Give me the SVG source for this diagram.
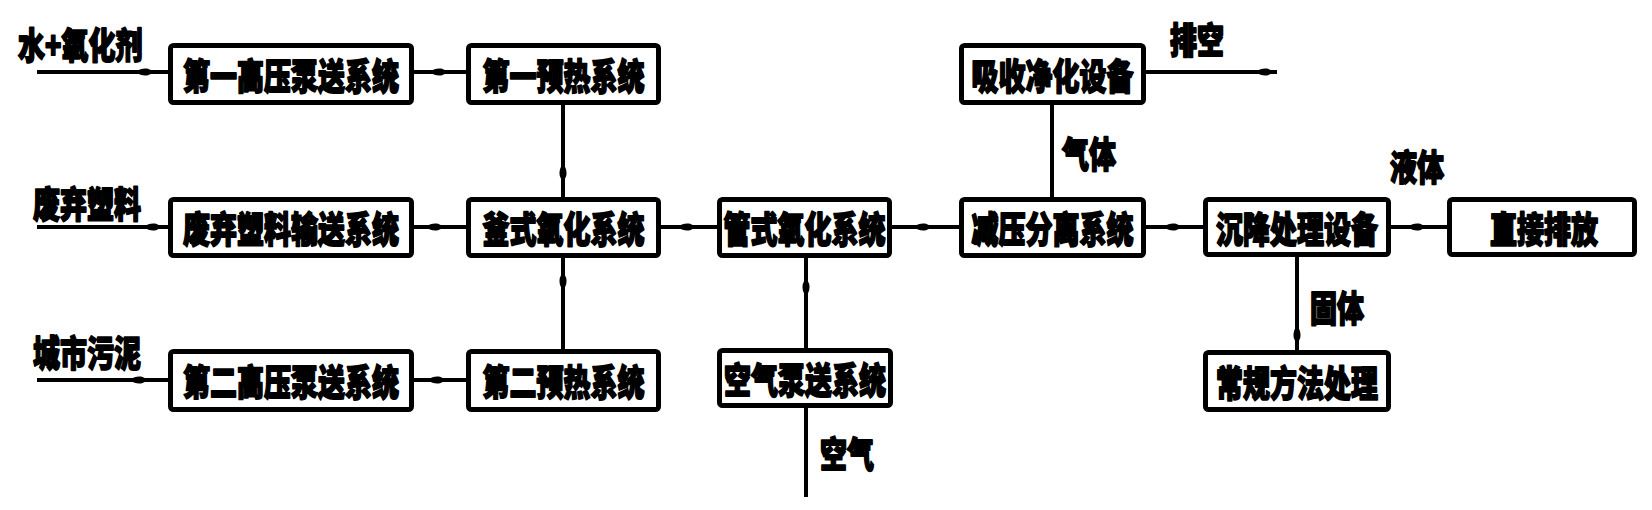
<svg xmlns="http://www.w3.org/2000/svg" width="1652" height="510" viewBox="0 0 1652 510">
<defs>
<style>
.box{fill:#fff;stroke:#000;stroke-width:5}
.t{font-family:"Noto Sans CJK SC","Noto Sans",sans-serif;font-weight:900;font-size:27px;fill:#000;stroke:#000;stroke-width:1.3;stroke-linejoin:round}
.c{font-family:"Noto Sans CJK SC","Noto Sans",sans-serif;font-weight:900;font-size:27px;fill:#000;stroke:#000;stroke-width:1.3;stroke-linejoin:round;text-anchor:middle;dominant-baseline:central}
.ln{fill:none;stroke:#000;stroke-width:4;marker-mid:url(#ah)}
</style>
<marker id="ah" markerUnits="userSpaceOnUse" orient="auto" overflow="visible" markerWidth="20" markerHeight="10" refX="0" refY="0">
<path d="M-12,0 C-8,-3.8 -3,-3.8 0,-3.2 L7,0 L0,3.2 C-3,3.8 -8,3.8 -12,0 Z" fill="#000"/>
</marker>
</defs>
<rect width="1652" height="510" fill="#fff"/>
<g id="connectors">
<path class="ln" d="M37,72 L148,72 L168,72"/>
<path class="ln" d="M414,72 L442,72 L466,72"/>
<path class="ln" d="M563,105 L563,176 L563,197"/>
<path class="ln" d="M37,227 L156,227 L168,227"/>
<path class="ln" d="M414,227 L438,227 L466,227"/>
<path class="ln" d="M37,380 L142,380 L168,380"/>
<path class="ln" d="M414,380 L440,380 L466,380"/>
<path class="ln" d="M563,349 L563,278 L563,258"/>
<path class="ln" d="M661,227 L690,227 L717,227"/>
<path class="ln" d="M806,497 L806,408"/>
<path class="ln" d="M806,348 L806,284 L806,258"/>
<path class="ln" d="M892,227 L926,227 L959,227"/>
<path class="ln" d="M1052,197 L1052,105"/>
<path class="ln" d="M1146,72 L1268,72 L1277,72"/>
<path class="ln" d="M1146,227 L1176,227 L1203,227"/>
<path class="ln" d="M1391,227 L1420,227 L1447,227"/>
<path class="ln" d="M1297,257 L1297,338 L1297,350"/>
</g>
<g id="labels">
<text class="t" transform="translate(18,43) scale(1,1.35)" dominant-baseline="central">水+氧化剂</text>
<text class="t" transform="translate(33,202) scale(1,1.35)" dominant-baseline="central">废弃塑料</text>
<text class="t" transform="translate(33,351) scale(1,1.35)" dominant-baseline="central">城市污泥</text>
<text class="t" transform="translate(1170,38) scale(1,1.35)" dominant-baseline="central">排空</text>
<text class="t" transform="translate(1062,152) scale(1,1.35)" dominant-baseline="central">气体</text>
<text class="t" transform="translate(1390,165) scale(1,1.35)" dominant-baseline="central">液体</text>
<text class="t" transform="translate(1310,306) scale(1,1.35)" dominant-baseline="central">固体</text>
<text class="t" transform="translate(820,452) scale(1,1.35)" dominant-baseline="central">空气</text>
</g>
<g id="n1"><rect class="box" x="170.5" y="45.5" width="241" height="57" rx="3"/><text class="c" transform="translate(291,74) scale(1,1.35)">第一高压泵送系统</text></g>
<g id="n2"><rect class="box" x="468.5" y="45.5" width="190" height="57" rx="3"/><text class="c" transform="translate(563.5,74) scale(1,1.35)">第一预热系统</text></g>
<g id="n3"><rect class="box" x="170.5" y="199.5" width="241" height="56" rx="3"/><text class="c" transform="translate(291,227.5) scale(1,1.35)">废弃塑料输送系统</text></g>
<g id="n4"><rect class="box" x="468.5" y="199.5" width="190" height="56" rx="3"/><text class="c" transform="translate(563.5,227.5) scale(1,1.35)">釜式氧化系统</text></g>
<g id="n5"><rect class="box" x="170.5" y="351.5" width="241" height="58" rx="3"/><text class="c" transform="translate(291,380.5) scale(1,1.35)">第二高压泵送系统</text></g>
<g id="n6"><rect class="box" x="468.5" y="351.5" width="190" height="58" rx="3"/><text class="c" transform="translate(563.5,380.5) scale(1,1.35)">第二预热系统</text></g>
<g id="n7"><rect class="box" x="719.5" y="199.5" width="170" height="56" rx="3"/><text class="c" transform="translate(804.5,227.5) scale(1,1.35)">管式氧化系统</text></g>
<g id="n8"><rect class="box" x="719.5" y="350.5" width="171" height="55" rx="3"/><text class="c" transform="translate(805,378) scale(1,1.35)">空气泵送系统</text></g>
<g id="n9"><rect class="box" x="961.5" y="45.5" width="182" height="57" rx="3"/><text class="c" transform="translate(1052.5,74) scale(1,1.35)">吸收净化设备</text></g>
<g id="n10"><rect class="box" x="961.5" y="199.5" width="182" height="56" rx="3"/><text class="c" transform="translate(1052.5,227.5) scale(1,1.35)">减压分离系统</text></g>
<g id="n11"><rect class="box" x="1205.5" y="199.5" width="183" height="55" rx="3"/><text class="c" transform="translate(1297,227) scale(1,1.35)">沉降处理设备</text></g>
<g id="n12"><rect class="box" x="1449.5" y="199.5" width="185" height="55" rx="3"/><text class="c" transform="translate(1544,227) scale(1,1.35)">直接排放</text></g>
<g id="n13"><rect class="box" x="1205.5" y="352.5" width="183" height="57" rx="3"/><text class="c" transform="translate(1297,381) scale(1,1.35)">常规方法处理</text></g>
</svg>
